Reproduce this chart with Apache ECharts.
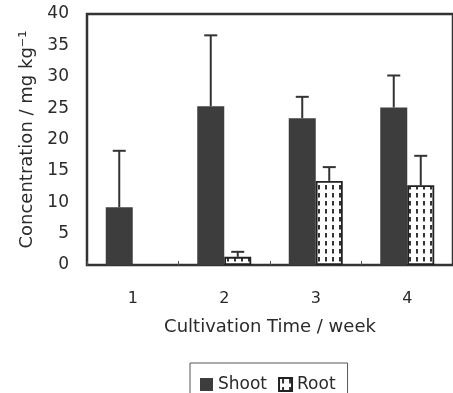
<!DOCTYPE html>
<html>
<head>
<meta charset="utf-8">
<script src="https://cdn.jsdelivr.net/npm/echarts@6/dist/echarts.min.js"></script>
<style>
html,body{margin:0;padding:0;background:#fff;}
#chart{width:453px;height:393px;}
</style>
</head>
<body>
<div id="chart"></div>
<script>
// Data
const categories = ['1', '2', '3', '4'];
const shootValues = [9.2, 25.3, 23.4, 25.1];
const shootErrors = [9.0, 11.3, 3.4, 5.1];
const rootValues = [0, 1.3, 13.4, 12.7];
const rootErrors = [0, 0.8, 2.2, 4.7];
const yTicks = [0, 5, 10, 15, 20, 25, 30, 35, 40];

const FONT = 'DejaVu Sans';
const INK = '#2a2a2a';
const BAR_W = 27;

// dashed pattern for the Root bars
function makePattern() {
  const c = document.createElement('canvas');
  c.width = 7; c.height = 8;
  const g = c.getContext('2d');
  g.fillStyle = '#ffffff';
  g.fillRect(0, 0, 7, 8);
  g.fillStyle = '#333333';
  g.fillRect(3, 1, 2, 4.5);
  return c;
}
const pattern = { image: makePattern(), repeat: 'repeat' };

function errData(vals, errs) {
  return vals.map((v, i) => [i, v, v + errs[i], errs[i]]);
}

function errRender(offset) {
  return function (params, api) {
    const err = api.value(3);
    if (!err) return null;
    const base = api.coord([api.value(0), api.value(1)]);
    const top = api.coord([api.value(0), api.value(2)]);
    const x = base[0] + offset;
    const cap = 6.5;
    return {
      type: 'group',
      children: [
        { type: 'line', shape: { x1: x, y1: base[1], x2: x, y2: top[1] }, style: { stroke: '#333', lineWidth: 2 } },
        { type: 'line', shape: { x1: x - cap, y1: top[1], x2: x + cap, y2: top[1] }, style: { stroke: '#333', lineWidth: 2 } }
      ]
    };
  };
}

const chart = echarts.init(document.getElementById('chart'), null, { renderer: 'canvas' });
chart.setOption({
  animation: false,
  backgroundColor: '#fff',
  grid: {
    left: 87, right: -2, top: 14, bottom: 128,
    show: true, borderColor: '#333', borderWidth: 2.5, backgroundColor: 'transparent'
  },
  legend: {
    left: 190, top: 363,
    data: [{ name: 'Shoot', icon: 'rect' }, { name: 'Root', icon: 'rect' }],
    itemWidth: 13, itemHeight: 13, itemGap: 11,
    padding: [13, 12, 12, 10],
    borderColor: '#555', borderWidth: 1, borderRadius: 0,
    textStyle: { fontFamily: FONT, fontSize: 17, color: INK }
  },
  xAxis: {
    type: 'category',
    data: categories,
    name: 'Cultivation Time / week',
    nameLocation: 'middle',
    nameGap: 53,
    nameTextStyle: { fontFamily: FONT, fontSize: 18, color: INK },
    axisLine: { show: false },
    axisTick: { show: true, inside: true, length: 4, lineStyle: { color: '#555', width: 1 } },
    axisLabel: { fontFamily: FONT, fontSize: 16, color: INK, margin: 26 },
    splitLine: { show: false }
  },
  yAxis: {
    type: 'value',
    min: yTicks[0], max: yTicks[yTicks.length - 1], interval: yTicks[1] - yTicks[0],
    name: 'Concentration / mg kg⁻¹',
    nameLocation: 'middle',
    nameGap: 49,
    nameTextStyle: { fontFamily: FONT, fontSize: 18, color: INK },
    axisLine: { show: false },
    axisTick: { show: false },
    axisLabel: { fontFamily: FONT, fontSize: 17, color: INK, margin: 18 },
    splitLine: { show: false }
  },
  series: [
    {
      name: 'Shoot', type: 'bar', data: shootValues.map(v => (v ? v : '-')),
      barWidth: BAR_W, barGap: '0%',
      itemStyle: { color: '#3d3d3d' }
    },
    {
      name: 'Root', type: 'bar', data: rootValues.map(v => (v ? v : '-')),
      barWidth: BAR_W, barGap: '0%',
      itemStyle: { color: pattern, borderColor: '#222', borderWidth: 1.8 }
    },
    {
      name: 'ShootErr', type: 'custom', data: errData(shootValues, shootErrors),
      renderItem: errRender(-BAR_W / 2), z: 5, silent: true
    },
    {
      name: 'RootErr', type: 'custom', data: errData(rootValues, rootErrors),
      renderItem: errRender(BAR_W / 2), z: 5, silent: true
    }
  ]
});
</script>
</body>
</html>
